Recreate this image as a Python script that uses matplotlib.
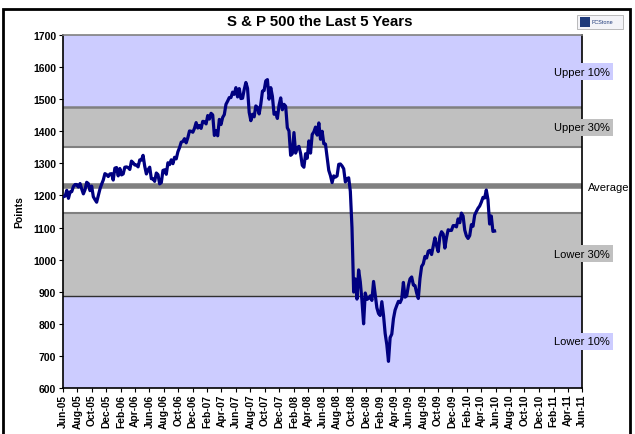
import matplotlib
matplotlib.use("Agg")
import matplotlib.pyplot as plt
import matplotlib.dates as mdates
from matplotlib.patches import Rectangle
import pandas as pd

plt.rcParams['font.family'] = ['Liberation Sans', 'DejaVu Sans']

# weekly closes (Fridays)
y2005 = [1196, 1198, 1216, 1191, 1211, 1212, 1228, 1234, 1234, 1226, 1237, 1220, 1205,
         1218, 1241, 1237, 1215, 1229, 1196, 1187, 1179, 1199, 1220, 1235, 1248, 1268,
         1265, 1259, 1267, 1268, 1248]
y2006 = [1285, 1287, 1261, 1284, 1264, 1267, 1288, 1289, 1287, 1281, 1307, 1302, 1295,
         1295, 1289, 1311, 1310, 1325, 1291, 1267, 1280, 1288, 1252, 1252, 1244, 1270,
         1265, 1236, 1240, 1278, 1280, 1266, 1302, 1296, 1311, 1299, 1319, 1314, 1336,
         1349, 1366, 1368, 1377, 1364, 1380, 1401, 1400, 1397, 1409, 1427, 1410, 1418]
y2007 = [1409, 1431, 1430, 1423, 1449, 1438, 1456, 1451, 1387, 1402, 1386, 1437, 1421,
         1443, 1452, 1484, 1494, 1505, 1505, 1522, 1515, 1536, 1507, 1533, 1502, 1503,
         1530, 1552, 1534, 1459, 1433, 1453, 1445, 1479, 1474, 1454, 1484, 1525, 1527,
         1557, 1561, 1500, 1536, 1509, 1453, 1458, 1440, 1481, 1504, 1467, 1484, 1478]
y2008 = [1411, 1401, 1325, 1330, 1396, 1332, 1349, 1353, 1331, 1294, 1288, 1330, 1316,
         1370, 1332, 1390, 1398, 1413, 1388, 1426, 1375, 1400, 1361, 1360, 1318, 1278,
         1262, 1240, 1261, 1257, 1261, 1297, 1298, 1292, 1283, 1242, 1252, 1255, 1213,
         1099, 899, 940, 877, 968, 931, 873, 800, 896, 876, 879, 887, 873]
y2009 = [932, 890, 850, 832, 826, 869, 827, 770, 735, 683, 757, 768, 816, 843, 857, 870,
         866, 878, 929, 883, 887, 919, 940, 946, 921, 919, 896, 879, 941, 979, 987, 1010,
         1005, 1026, 1029, 1016, 1042, 1068, 1044, 1025, 1072, 1087, 1080, 1036, 1069,
         1093, 1091, 1091, 1106, 1106, 1102, 1127, 1115]
y2010 = [1145, 1136, 1092, 1074, 1066, 1075, 1109, 1104, 1139, 1150, 1160, 1167, 1179,
         1194, 1192, 1217, 1187, 1111, 1136, 1088, 1089]

points = y2005 + y2006 + y2007 + y2008 + y2009 + y2010
weeks = pd.date_range("2005-06-03", periods=len(points), freq="W-FRI")

# band edges (points) and their colours, top to bottom
band_edges = [1700, 1476, 1350, 1144, 888, 600]
band_colors = ["#CCCCFF", "#C0C0C0", "#FFFFFF", "#C0C0C0", "#CCCCFF"]
average = 1228

band_labels = ["Upper 10%", "Upper 30%", "Average", "Lower 30%", "Lower 10%"]
label_levels = [1585, 1413, 1226, 1018, 746]
label_colors = ["#CCCCFF", "#C0C0C0", "#FFFFFF", "#C0C0C0", "#CCCCFF"]

fig = plt.figure(figsize=(6.35, 4.35), dpi=100)
ax = fig.add_axes([63 / 635, 1 - 389 / 435, 519 / 635, 353 / 435])

for i, c in enumerate(band_colors):
    ax.axhspan(band_edges[i + 1], band_edges[i], color=c, lw=0, zorder=0)
ax.axhline(band_edges[1], color="#808080", lw=1.8, zorder=1)
ax.axhline(band_edges[2], color="#808080", lw=1.5, zorder=1)
ax.axhline(band_edges[3], color="#808080", lw=1.5, zorder=1)
ax.axhline(band_edges[4], color="#303030", lw=1.0, zorder=1)
ax.axhline(average, color="#808080", lw=4, zorder=1)

ax.plot(weeks, points, color="#000080", lw=2.3, zorder=3)

ax.set_ylim(600, 1700)
ax.set_yticks(range(600, 1701, 100))
ax.set_xlim(pd.Timestamp("2005-06-01"), pd.Timestamp("2011-06-01"))
ax.xaxis.set_major_locator(mdates.MonthLocator(bymonth=[2, 4, 6, 8, 10, 12]))
ax.xaxis.set_major_formatter(mdates.DateFormatter("%b-%y"))
ax.tick_params(axis="x", rotation=90, labelsize=7.4, length=3, pad=1)
ax.tick_params(axis="y", labelsize=7.5, length=3, pad=2)
for t in ax.get_xticklabels() + ax.get_yticklabels():
    t.set_fontweight("bold")

for s in ["left", "bottom", "right"]:
    ax.spines[s].set_color("black")
    ax.spines[s].set_linewidth(1.2)
ax.spines["top"].set_color("#808080")
ax.spines["top"].set_linewidth(1.2)

ax.set_ylabel("Points", fontsize=7.5, fontweight="bold")
ax.yaxis.set_label_coords(-0.075, 0.5)

for txt, lvl, col in zip(band_labels, label_levels, label_colors):
    if txt == "Average":
        ax.text(1.012, lvl, txt, transform=ax.get_yaxis_transform(), ha="left",
                va="center", fontsize=8, clip_on=False, zorder=5)
    else:
        ax.text(1.0, lvl, txt, transform=ax.get_yaxis_transform(), ha="center",
                va="center", fontsize=8, clip_on=False, zorder=5,
                bbox=dict(facecolor=col, edgecolor="none", pad=2.5))

fig.text(320 / 635, 1 - 22 / 435, "S & P 500 the Last 5 Years", ha="center",
         va="center", fontsize=10.8, fontweight="bold")

# chart border
fig.patches.append(Rectangle((3 / 635, -0.05), 627 / 635, 1 - 10 / 435 + 0.05,
                             transform=fig.transFigure, fill=False,
                             edgecolor="black", lw=2))

# small logo box
fig.patches.append(Rectangle((577 / 635, 1 - 30 / 435), 46 / 635, 14 / 435,
                             transform=fig.transFigure, facecolor="#F4F4F8",
                             edgecolor="#B0B0B0", lw=0.6))
fig.patches.append(Rectangle((580 / 635, 1 - 28 / 435), 10 / 635, 10 / 435,
                             transform=fig.transFigure, facecolor="#1F3A7A",
                             edgecolor="none"))
fig.text(592 / 635, 1 - 23 / 435, "FCStone", fontsize=4, color="#1F3A7A",
         va="center", ha="left")

fig.savefig("out.png", dpi=100)
